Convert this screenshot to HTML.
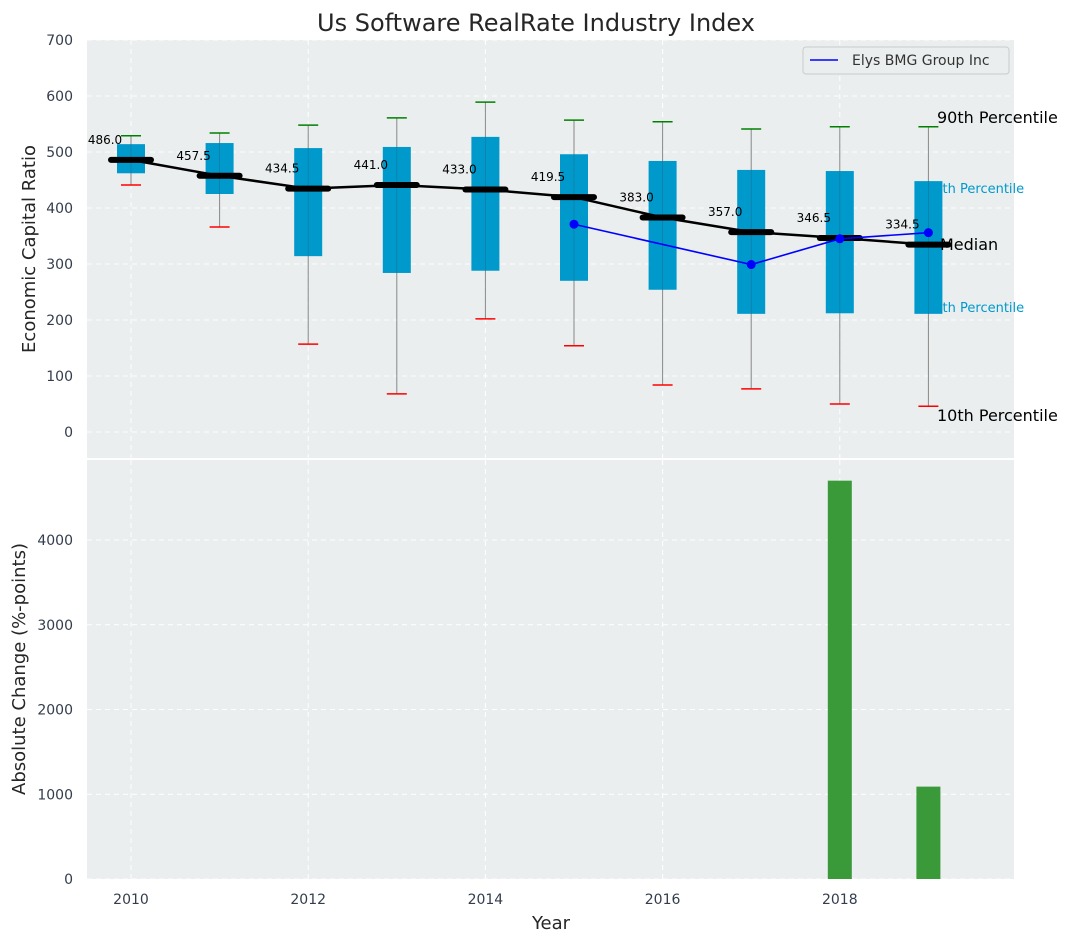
<!DOCTYPE html>
<html><head><meta charset="utf-8"><style>
body{margin:0;background:#fff;font-family:"Liberation Sans","DejaVu Sans",sans-serif}
svg text{font-family:"DejaVu Sans","Liberation Sans",sans-serif}
</style></head><body>
<svg id="c" width="1072" height="942" xmlns="http://www.w3.org/2000/svg"></svg>
<script>
const years=[2010,2011,2012,2013,2014,2015,2016,2017,2018,2019];
const medians=[486.0,457.5,434.5,441.0,433.0,419.5,383.0,357.0,346.5,334.5];
const q75=[514,516,507,509,527,496,484,468,466,448];
const q25=[462,425,314,284,288,270,254,211,212,211];
const p90=[529,534,548,561,589,557,554,541,545,545];
const p10=[441,366,157,68,202,154,84,77,50,46];
const compYears=[2015,2017,2018,2019];
const compVals=[371,299,345,356];
const barYears=[2018,2019];
const barVals=[4700,1090];
const topTicks=[0,100,200,300,400,500,600,700];
const botTicks=[0,1000,2000,3000,4000];
const xTicks=[2010,2012,2014,2016,2018];

const svg=document.getElementById('c');const NS='http://www.w3.org/2000/svg';
function el(t,a,txt){const e=document.createElementNS(NS,t);for(const k in a)e.setAttribute(k,a[k]);if(txt!==undefined)e.textContent=txt;svg.appendChild(e);return e;}
const L=87,R=1014;
const X=v=>131+(v-2010)*88.6;
const T0=40,T1=458,Y=v=>432-v*0.56;
const B0=460,B1=879,YB=v=>879-v*0.08475;

let e;
e=el('rect',{x:L,y:T0,width:R-L,height:T1-T0,fill:'#eaeeee'});

e=el('rect',{x:L,y:B0,width:R-L,height:B1-B0,fill:'#eaeeee'});

topTicks.forEach(t=>{el('line',{x1:L,x2:R,y1:Y(t),y2:Y(t),stroke:'#fff','stroke-dasharray':'5,4','stroke-width':1});
 e=el('text',{x:L-14,y:Y(t)+5,'text-anchor':'end','font-size':14,fill:'#333d4d'},t);
 });
botTicks.forEach(t=>{el('line',{x1:L,x2:R,y1:YB(t),y2:YB(t),stroke:'#fff','stroke-dasharray':'5,4','stroke-width':1});
 e=el('text',{x:L-14,y:YB(t)+5,'text-anchor':'end','font-size':14,fill:'#333d4d'},t);
 });
xTicks.forEach(t=>{el('line',{x1:X(t),x2:X(t),y1:T0,y2:T1,stroke:'#fff','stroke-dasharray':'5,4'});
 el('line',{x1:X(t),x2:X(t),y1:B0,y2:B1,stroke:'#fff','stroke-dasharray':'5,4'});
 e=el('text',{x:X(t),y:904,'text-anchor':'middle','font-size':14,fill:'#333d4d'},t);
 });
e=el('text',{x:926,y:193,'font-size':13,fill:'#0099cc'},'75th Percentile');
e=el('text',{x:926,y:312,'font-size':13,fill:'#0099cc'},'25th Percentile');
years.forEach((y,i)=>{const cx=X(y),w=28;
 el('line',{x1:cx,x2:cx,y1:Y(p90[i]),y2:Y(p10[i]),stroke:'#888','stroke-width':1});
 e=el('rect',{x:cx-w/2,y:Y(q75[i]),width:w,height:Y(q25[i])-Y(q75[i]),fill:'#0099cc'});
 
 el('line',{x1:cx,x2:cx,y1:Y(q75[i]),y2:Y(q25[i]),stroke:'#1a6a8a','stroke-width':0.8,opacity:0.6});
 el('line',{x1:cx-10,x2:cx+10,y1:Y(p90[i]),y2:Y(p90[i]),stroke:'green','stroke-width':1.5});
 el('line',{x1:cx-10,x2:cx+10,y1:Y(p10[i]),y2:Y(p10[i]),stroke:'red','stroke-width':1.5});
});
e=el('polyline',{points:years.map((y,i)=>X(y)+','+Y(medians[i])).join(' '),fill:'none',stroke:'#000','stroke-width':2.5});

years.forEach((y,i)=>{const cx=X(y);
 el('line',{x1:cx-20,x2:cx+20,y1:Y(medians[i]),y2:Y(medians[i]),stroke:'#000','stroke-width':6,'stroke-linecap':'round'});
 e=el('text',{x:cx-26,y:Y(medians[i])-16,'text-anchor':'middle','font-size':12,fill:'#000'},medians[i].toFixed(1));
 });
e=el('polyline',{points:compYears.map((y,i)=>X(y)+','+Y(compVals[i])).join(' '),fill:'none',stroke:'#0000ff','stroke-width':1.6});

compYears.forEach((y,i)=>{e=el('circle',{cx:X(y),cy:Y(compVals[i]),r:4.5,fill:'#0000ff'});
 });
[['90th Percentile',937,123],['Median',940,250],['10th Percentile',937,421]].forEach(a=>{
 e=el('text',{x:a[1],y:a[2],'font-size':16,fill:'#000'},a[0]);});
barYears.forEach((y,i)=>{e=el('rect',{x:X(y)-12,y:YB(barVals[i]),width:24,height:B1-YB(barVals[i]),fill:'#3a9a3a'});
 });
e=el('rect',{x:803,y:47,width:206,height:27,rx:3,fill:'#eaeeee',stroke:'#ccc'});

el('line',{x1:810,x2:838,y1:60,y2:60,stroke:'#0000ff','stroke-width':1.6});
e=el('text',{x:852,y:65,'font-size':14,fill:'#333'},'Elys BMG Group Inc');
e=el('text',{x:536,y:31,'text-anchor':'middle','font-size':24,fill:'#262626'},'Us Software RealRate Industry Index');
e=el('text',{x:0,y:0,'text-anchor':'middle','font-size':18,fill:'#262626',transform:'translate(35,249) rotate(-90)'},'Economic Capital Ratio');
e=el('text',{x:0,y:0,'text-anchor':'middle','font-size':18,fill:'#262626',transform:'translate(25,669) rotate(-90)'},'Absolute Change (%-points)');
e=el('text',{x:551,y:929,'text-anchor':'middle','font-size':18,fill:'#262626'},'Year');
</script>
</body></html>
